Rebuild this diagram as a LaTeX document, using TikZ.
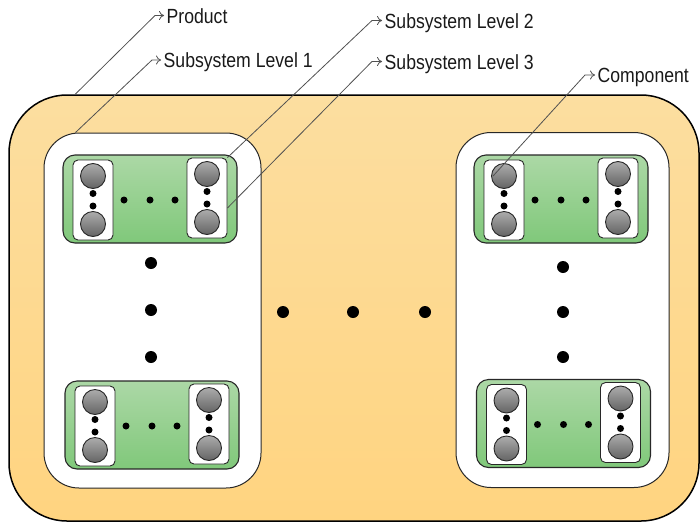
\documentclass[tikz,border=0pt]{standalone}
\usepackage{fontspec}
\setmainfont{Liberation Sans}[FakeStretch=0.86]
\usetikzlibrary{arrows.meta}
\definecolor{prodtop}{RGB}{252,222,160}
\definecolor{prodbot}{RGB}{255,212,128}
\definecolor{grtop}{RGB}{172,216,166}
\definecolor{grbot}{RGB}{128,200,122}
\definecolor{balltop}{RGB}{172,172,172}
\definecolor{ballbot}{RGB}{100,100,100}
\definecolor{edge}{RGB}{40,40,40}
\definecolor{leader}{RGB}{80,80,80}
\definecolor{txt}{RGB}{25,25,25}
\tikzset{
  prodbox/.style={draw=black, line width=1.5pt, rounded corners=58pt, top color=prodtop, bottom color=prodbot, inner sep=0pt, minimum width=690pt, minimum height=426pt},
  subone/.style={draw=edge, line width=1pt, rounded corners=35pt, fill=white, inner sep=0pt, minimum height=355pt},
  greenbox/.style={draw=edge, line width=1.1pt, rounded corners=12pt, top color=grtop, bottom color=grbot, inner sep=0pt, minimum width=174pt, minimum height=88pt},
  compbox/.style={draw=edge, line width=0.9pt, rounded corners=5pt, fill=white, inner sep=0pt, minimum width=40pt, minimum height=80pt},
  ball/.style={circle, draw=edge, line width=0.9pt, top color=balltop, bottom color=ballbot, inner sep=0pt, minimum size=25pt},
  sdot/.style={circle, fill=black, inner sep=0pt, minimum size=7pt},
  bdot/.style={circle, fill=black, inner sep=0pt, minimum size=12pt},
  lbl/.style={anchor=base west, inner xsep=2.5pt, inner ysep=0pt, text height=15pt, text depth=0pt, text=txt, font=\fontsize{20.5}{24}\selectfont},
  leaderline/.style={draw=leader, line width=0.8pt, -{To[length=5pt,width=9pt]}},
}
\newcommand{\compunit}[1]{%
  \node[ball] (#1t) at ([yshift=24pt]#1.center) {};
  \node[ball] (#1d) at ([yshift=-24pt]#1.center) {};
  \node[sdot] (#1p) at ([yshift=6.5pt]#1.center) {};
  \node[sdot] (#1q) at ([yshift=-6pt]#1.center) {};
}
\newcommand{\subsys}[3]{%
  \node[greenbox] (#1) at (#2,#3) {};
  \node[compbox] (#1a) at (#2-57,#3+1) {};
  \node[compbox] (#1b) at (#2+57,#3-1) {};
  \compunit{#1a}
  \compunit{#1b}
  \node[sdot] (#1m1) at ([xshift=-26pt,yshift=-1pt]#1.center) {};
  \node[sdot] (#1m2) at ([xshift=0pt,yshift=-1pt]#1.center) {};
  \node[sdot] (#1m3) at ([xshift=25pt,yshift=-1pt]#1.center) {};
}
\begin{document}
\begin{tikzpicture}[x=1pt, y=-1pt]
\useasboundingbox (0,0) rectangle (700,525);
\node[prodbox] (product) at (354,308) {};
\node[subone, minimum width=217pt] (ssl) at (152.5,310.5) {};
\node[subone, minimum width=213pt] (ssr) at (562.5,310) {};
\subsys{tl}{150}{199}
\subsys{bl}{152}{425}
\subsys{tr}{561}{199}
\subsys{br}{563.5}{423.5}
% vertical dots
\node[bdot] (lv1) at (151,263) {};
\node[bdot] (lv2) at (151,310) {};
\node[bdot] (lv3) at (151,357) {};
\node[bdot] (rv1) at (563,267) {};
\node[bdot] (rv2) at (563,312) {};
\node[bdot] (rv3) at (563,357) {};
% horizontal dots
\node[bdot] (h1) at (283,312) {};
\node[bdot] (h2) at (353,312) {};
\node[bdot] (h3) at (425,312) {};
% labels
\node[lbl] (lprod) at (164,23) {Product};
\node[lbl] (lss1) at (161,67.5) {Subsystem Level 1};
\node[lbl] (lss2) at (382,28) {Subsystem Level 2};
\node[lbl] (lss3) at (382,69) {Subsystem Level 3};
\node[lbl] (lcomp) at (595,82.5) {Component};
% leaders
\coordinate (sprod) at ([xshift=67pt]product.north west);
\coordinate (sss1) at ([xshift=32pt]ssl.north west);
\coordinate (sss3) at ([yshift=-10pt]tlb.east);
\coordinate (scomp) at ([xshift=2pt]trat.west);
\draw[leaderline] (sprod) -- ([xshift=-9pt]lprod.west) -- (lprod.west);
\draw[leaderline] (sss1) -- ([xshift=-9pt]lss1.west) -- (lss1.west);
\draw[leaderline] (tlb.north east) -- ([xshift=-10pt]lss2.west) -- (lss2.west);
\draw[leaderline] (sss3) -- ([xshift=-10pt]lss3.west) -- (lss3.west);
\draw[leaderline] (scomp) -- ([xshift=-10pt]lcomp.west) -- (lcomp.west);
\end{tikzpicture}
\end{document}
